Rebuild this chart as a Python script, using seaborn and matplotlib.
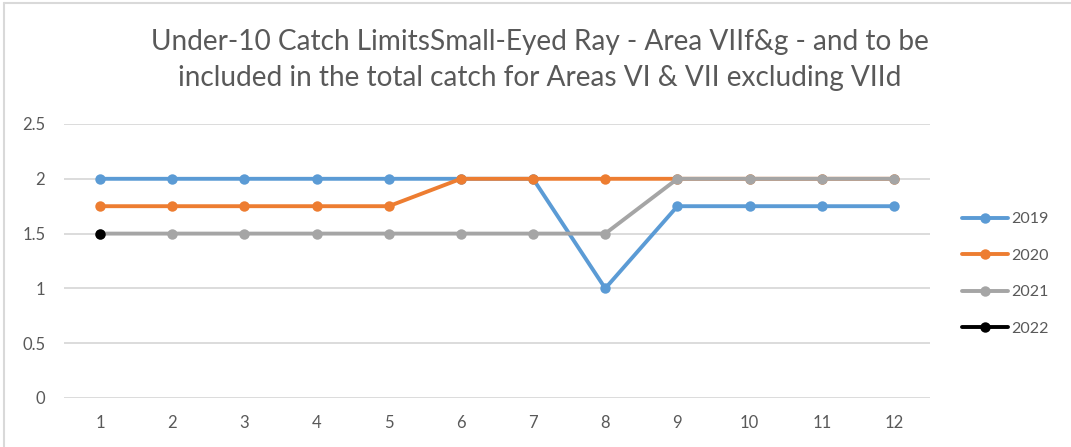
import numpy as np
import pandas as pd
import seaborn as sns
import matplotlib.pyplot as plt
from matplotlib.lines import Line2D

months = list(range(1, 13))
limits_2019 = [2, 2, 2, 2, 2, 2, 2, 1, 1.75, 1.75, 1.75, 1.75]
limits_2020 = [1.75, 1.75, 1.75, 1.75, 1.75, 2, 2, 2, 2, 2, 2, 2]
limits_2021 = [1.5, 1.5, 1.5, 1.5, 1.5, 1.5, 1.5, 1.5, 2, 2, 2, 2]
limits_2022 = [1.5] + [np.nan] * 11
years = ["2019", "2020", "2021", "2022"]
colors = ["#5b9bd5", "#ed7d31", "#a5a5a5", "#000000"]
y_ticks = [0, 0.5, 1, 1.5, 2, 2.5]
title = ("Under-10 Catch LimitsSmall-Eyed Ray - Area VIIf&g - and to be\n"
         "included in the total catch for Areas VI & VII excluding VIId")

series = [limits_2019, limits_2020, limits_2021, limits_2022]

sns.set_theme(style="white")
plt.rcParams["font.family"] = ["Lato", "DejaVu Sans"]

W, H = 1071, 447
fig = plt.figure(figsize=(W / 100, H / 100), dpi=100)
ax = fig.add_axes([64 / W, 1 - 398 / H, (930 - 64) / W, (398 - 124) / H])

text_color = "#595959"
grid_color = "#d9d9d9"

for yr, vals, col in zip(years, series, colors):
    df = pd.DataFrame({"month": months, "limit": vals}).dropna()
    sns.lineplot(data=df, x="month", y="limit", ax=ax, color=col,
                 linewidth=2.8, marker="o", markersize=7.5,
                 markeredgewidth=0, markerfacecolor=col, sort=False,
                 legend=False)

ax.set_xlim(0.5, 12.5)
ax.set_ylim(0, 2.5)
ax.set_xticks(months)
ax.set_yticks(y_ticks)
ax.set_yticklabels([f"{v:g}" for v in y_ticks])
ax.set_xlabel("")
ax.set_ylabel("")
for yv in y_ticks:
    ax.axhline(yv, color=grid_color, linewidth=1.3, zorder=0)
for s in ax.spines.values():
    s.set_visible(False)
ax.tick_params(axis="both", length=0, labelsize=12, labelcolor=text_color)
ax.tick_params(axis="y", pad=13.5)
ax.tick_params(axis="x", pad=12)

fig.text(540 / W, 1 - 60 / H, title, ha="center", va="center",
         fontsize=20.2, color=text_color, linespacing=1.45)

handles = [Line2D([0], [0], color=c, linewidth=2.8, marker="o",
                  markersize=7.5, markeredgewidth=0) for c in colors]
fig.legend(handles, years, loc="center left",
           bbox_to_anchor=(962 / W, 1 - 274 / H), frameon=False,
           borderpad=0, borderaxespad=0,
           fontsize=11.5, labelcolor=text_color, handlelength=2.9,
           handletextpad=0.15, labelspacing=1.4)

# chart frame edges
fig.add_artist(Line2D([4 / W, 4 / W], [0, 1 - 3 / H], color=grid_color,
                      linewidth=1.5, transform=fig.transFigure))
fig.add_artist(Line2D([4 / W, 1], [1 - 3 / H, 1 - 3 / H], color=grid_color,
                      linewidth=1.5, transform=fig.transFigure))

fig.savefig("out.png", dpi=100)
